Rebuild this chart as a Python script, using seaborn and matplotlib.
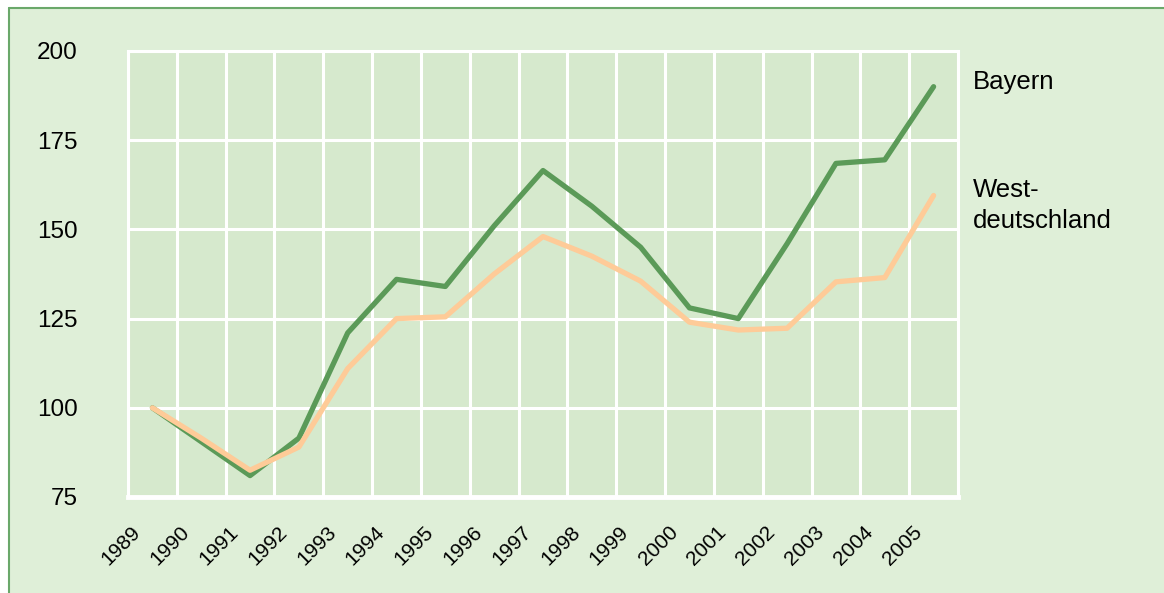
import matplotlib
matplotlib.use('Agg')
import matplotlib.pyplot as plt
import matplotlib.transforms as mtransforms
from matplotlib.patches import Rectangle
from matplotlib.lines import Line2D
import seaborn as sns
import pandas as pd
import numpy as np

years = [str(y) for y in range(1989, 2006)]
bayern = [100, 90.5, 81, 91.5, 121, 136, 134, 151, 166.5, 156.5, 145, 128, 125, 146, 168.5, 169.5, 190]
west = [100, 91.5, 82.5, 89, 111, 125, 125.5, 137.5, 148, 142.5, 135.5, 124, 121.8, 122.3, 135.3, 136.5, 159.5]
yticks = [75, 100, 125, 150, 175, 200]

df = pd.DataFrame({'Jahr': years * 2,
                   'Index': bayern + west,
                   'Region': ['Bayern'] * len(years) + ['Westdeutschland'] * len(years)})

sns.set_style('white')
plt.rcParams['font.family'] = ['Liberation Sans', 'DejaVu Sans']

fig = plt.figure(figsize=(11.64, 5.93), dpi=100)
fig.patch.set_facecolor('white')
W, H = 1164, 593
# outer green panel with border only on top/left
fig.patches.append(Rectangle((9 / W, 0), 1, 1 - 8 / H, transform=fig.transFigure,
                             facecolor='#dfefd8', edgecolor='none', zorder=-5))
fig.lines.append(Line2D([9 / W, 9 / W], [0, 1 - 8 / H], transform=fig.transFigure,
                        color='#6aa86a', lw=1.5, zorder=-4))
fig.lines.append(Line2D([9 / W, 1], [1 - 8 / H, 1 - 8 / H], transform=fig.transFigure,
                        color='#6aa86a', lw=1.5, zorder=-4))

ax = fig.add_axes([128 / W, 1 - 497 / H, (958 - 128) / W, (497 - 51) / H])
ax.set_facecolor('#d6e9cd')

sns.lineplot(data=df, x='Jahr', y='Index', hue='Region', sort=False,
             palette={'Bayern': '#5b9a58', 'Westdeutschland': '#fecb98'},
             linewidth=3.8, legend=False, ax=ax, zorder=3)

ax.set_xlim(-0.5, len(years) - 0.5)
ax.set_ylim(75, 200)
ax.set_yticks(yticks)
ax.set_xticks(range(len(years)))
ax.set_xticks(np.arange(-0.5, len(years), 1), minor=True)
ax.grid(axis='y', which='major', color='white', lw=2.2)
ax.grid(axis='x', which='minor', color='white', lw=2.2)
ax.set_axisbelow(True)
for s in ['left', 'right', 'top']:
    ax.spines[s].set_color('white')
    ax.spines[s].set_linewidth(2.2)
ax.spines['bottom'].set_color('white')
ax.spines['bottom'].set_linewidth(3.5)

ax.set_xlabel('')
ax.set_ylabel('')
ax.tick_params(axis='both', which='both', length=0, labelcolor='black')
ax.tick_params(axis='y', pad=36, labelsize=17.5)
ax.tick_params(axis='x', pad=35, labelsize=15)
ax.set_xticklabels(years, rotation=45, ha='center', va='center')
offset = mtransforms.ScaledTranslation(-22.5 / 72, 0, fig.dpi_scale_trans)
for lbl in ax.get_xticklabels():
    lbl.set_transform(lbl.get_transform() + offset)

ax.text(16.81, 191.3, 'Bayern', fontsize=18.5, color='black', va='center', ha='left',
        clip_on=False)
ax.text(16.81, 156.6, 'West-\ndeutschland', fontsize=18.5, color='black', va='center',
        ha='left', linespacing=1.36, clip_on=False)

fig.savefig('out.png', dpi=100, facecolor=fig.get_facecolor())
